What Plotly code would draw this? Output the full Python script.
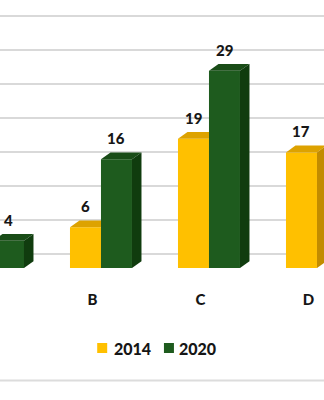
import plotly.graph_objects as go

# Survey counts per group, two survey years (None = no data for that year)
categories = ["A", "B", "C", "D"]
years = ["2014", "2020"]
values_2014 = [None, 6, 19, 17]
values_2020 = [4, 16, 29, None]

# Face colours for the pseudo-3D columns: front, top, side
colors = {
    "2014": ("#FFC000", "#DDA200", "#C28C00"),
    "2020": ("#1E5B1E", "#194C17", "#103C0E"),
}

BAR_W = 0.287      # column width in category units
DX = 0.088         # depth offset along x (category units)
DY = 1.0           # depth offset along y (value units)
TEXT_COLOR = "#161616"
LABEL_FONT = dict(family="Lato", size=15, color=TEXT_COLOR, weight=900)

fig = go.Figure()

pos = list(range(len(categories)))
x14 = [p - BAR_W / 2 for p in pos]
x20 = [p + BAR_W / 2 for p in pos]

# Front faces
for name, xs, vals in (("2014", x14, values_2014), ("2020", x20, values_2020)):
    fig.add_trace(go.Bar(
        x=xs, y=vals, width=BAR_W, name=name,
        marker=dict(color=colors[name][0], line=dict(width=0)),
        showlegend=False, hoverinfo="skip",
    ))


def face(xs, ys, color):
    fig.add_trace(go.Scatter(
        x=xs + [xs[0]], y=ys + [ys[0]], mode="lines", fill="toself",
        fillcolor=color, line=dict(width=0, color=color),
        showlegend=False, hoverinfo="skip",
    ))


# Top and side faces; the 2014 faces are clipped where the 2020 column hides them
for i in pos:
    v1, v2 = values_2014[i], values_2020[i]
    l1, r1 = x14[i] - BAR_W / 2, x14[i] + BAR_W / 2
    l2, r2 = x20[i] - BAR_W / 2, x20[i] + BAR_W / 2
    top1, side1 = colors["2014"][1], colors["2014"][2]
    top2, side2 = colors["2020"][1], colors["2020"][2]
    h2 = v2 if v2 is not None else 0
    if v1 is not None:
        if v1 >= h2:
            face([l1, r1, r1 + DX, l1 + DX], [v1, v1, v1 + DY, v1 + DY], top1)
            face([r1, r1 + DX, r1 + DX, r1], [h2, h2 + DY, v1 + DY, v1], side1)
        else:
            face([l1, r1, r1, l1 + DX], [v1, v1, v1 + DY, v1 + DY], top1)
    if v2 is not None:
        face([l2, r2, r2 + DX, l2 + DX], [v2, v2, v2 + DY, v2 + DY], top2)
        face([r2, r2 + DX, r2 + DX, r2], [0, DY, v2 + DY, v2], side2)

# Value labels above each column
annotations = []
for xs, vals in ((x14, values_2014), (x20, values_2020)):
    for x, v in zip(xs, vals):
        if v is None:
            continue
        annotations.append(dict(
            x=x, y=v, xref="x", yref="y", text=str(v),
            showarrow=False, yanchor="bottom", yshift=10, font=LABEL_FONT,
        ))

# Legend drawn as swatches with labels
legend_items = [("2014", 0.300, 0.346), ("2020", 0.506, 0.546)]
shapes = []
for name, sx, tx in legend_items:
    shapes.append(dict(
        type="rect", xref="paper", yref="paper",
        x0=sx, x1=sx + 10 / 324, y0=(268 - 353) / 268, y1=(268 - 343) / 268,
        fillcolor=colors[name][0], line=dict(width=0),
    ))
    annotations.append(dict(
        x=tx, y=(268 - 348.5) / 268, xref="paper", yref="paper",
        text=name, showarrow=False, xanchor="left", yanchor="middle",
        font=dict(family="Lato", size=16, color=TEXT_COLOR, weight=900),
    ))

# Chart frame line along the bottom
shapes.append(dict(
    type="line", xref="paper", yref="paper", x0=0, x1=1,
    y0=(268 - 380.5) / 268, y1=(268 - 380.5) / 268,
    line=dict(color="#DCDCDC", width=2),
))

fig.update_layout(
    width=324, height=400,
    margin=dict(l=0, r=0, t=0, b=132),
    paper_bgcolor="white", plot_bgcolor="white",
    barmode="overlay",
    showlegend=False,
    annotations=annotations,
    shapes=shapes,
    xaxis=dict(
        range=[0.065, 3.065], showgrid=False, zeroline=False, showline=False,
        tickvals=[p - 0.079 for p in pos], ticktext=categories,
        ticks="", tickfont=dict(family="Lato", size=15, color=TEXT_COLOR, weight=900),
        ticklabelstandoff=21,
    ),
    yaxis=dict(
        range=[0, 39.41], showgrid=True, gridcolor="#D9D9D9", gridwidth=1.5,
        tick0=2.05, dtick=5, zeroline=False, showline=False,
        showticklabels=False, ticks="",
    ),
)

fig.write_html("out.html")
